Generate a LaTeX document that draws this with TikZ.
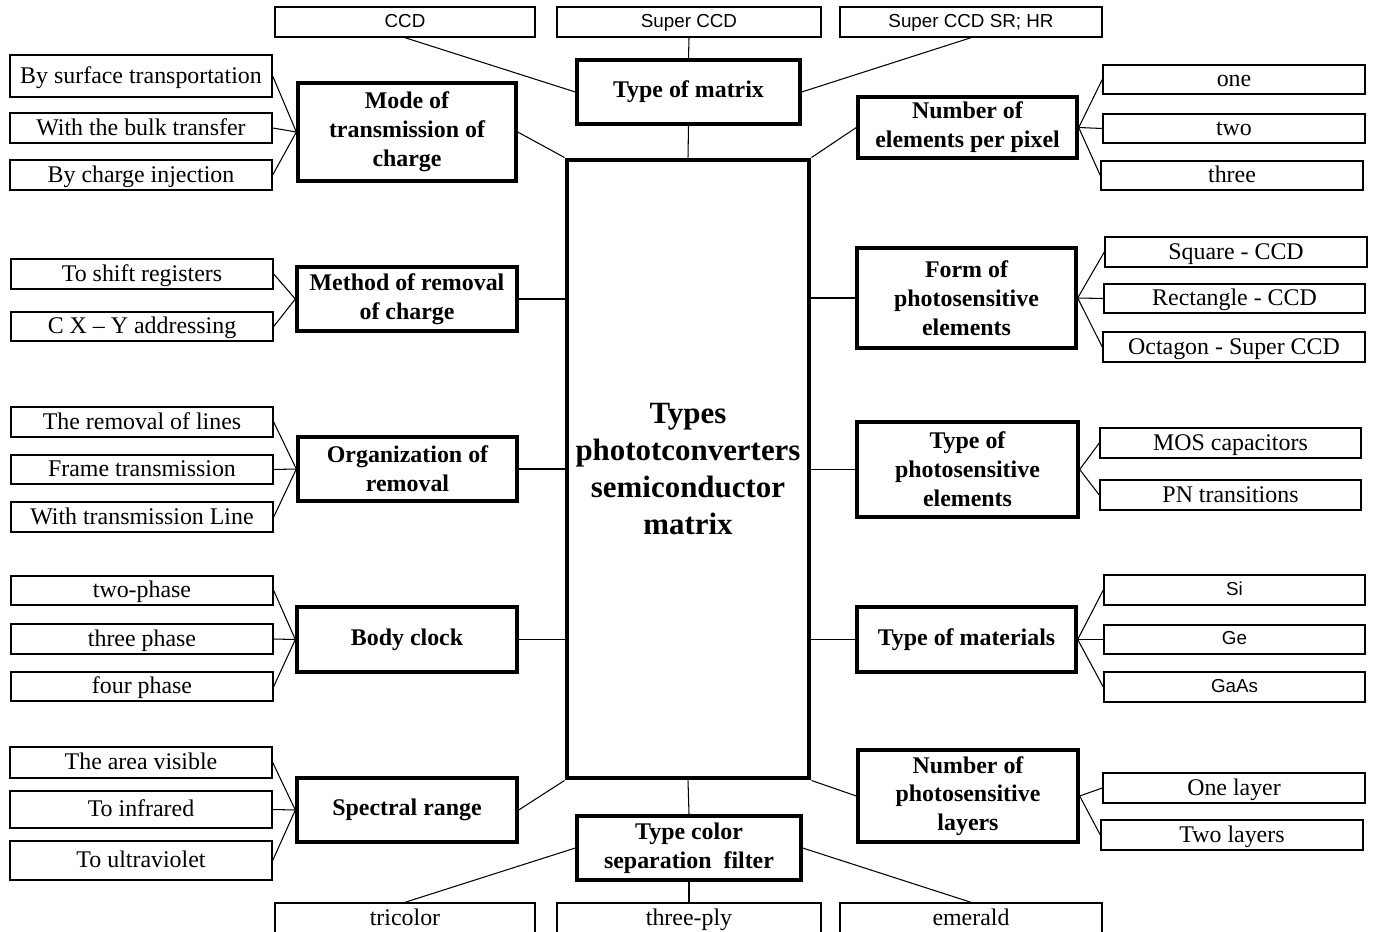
\documentclass[tikz,border=0pt]{standalone}
\usepackage{fontspec}
\setmainfont{Liberation Serif}
\setsansfont{Liberation Sans}
\newcommand{\leaffont}{\fontsize{13.6}{16}\selectfont}
\newcommand{\sleaffont}{\sffamily\fontsize{10.7}{13}\selectfont}
\newcommand{\catfont}{\bfseries\fontsize{13.6}{16.4}\selectfont}
\newcommand{\corefont}{\bfseries\fontsize{17.6}{21}\selectfont}
\newcommand{\bx}[7]{\node[#6, minimum width={(#4-#2)*0.02cm}, minimum height={(#5-#3)*0.02cm}] (#1) at ({(#2+#4)/2},{(#3+#5)/2}) {#7};}
\tikzset{
  leaf/.style={draw, line width=0.8pt, inner sep=0pt, font=\leaffont, text height=9pt, text depth=0.5pt},
  sleaf/.style={leaf, font=\sleaffont, text height=7.7pt, text depth=1.5pt},
  cat/.style={draw, line width=1.9pt, inner sep=0pt, align=center, font=\catfont},
  core/.style={draw, line width=2.8pt, inner sep=0pt, align=center, font=\corefont},
  conn/.style={line width=0.6pt}
}
\begin{document}
\begin{tikzpicture}[x=0.02cm, y=-0.02cm]
\useasboundingbox (0,0) rectangle (1375,932);
% center
\bx{core}{567}{160}{809}{778}{core}{Types\\phototconverters\\semiconductor\\matrix}
% top
\bx{ccd}{275}{7}{535}{37}{sleaf}{CCD}
\bx{sccd}{557}{7}{821}{37}{sleaf}{Super CCD}
\bx{sccdsr}{840}{7}{1102}{37}{sleaf}{Super CCD SR; HR}
\bx{tmat}{577}{60}{800}{124}{cat}{Type of matrix}
% left
\bx{mode}{298}{83}{516}{181}{cat}{Mode of\\transmission of\\charge}
\bx{lbst}{10}{55}{272}{97}{leaf}{By surface transportation}
\bx{lwbt}{10}{113}{272}{143}{leaf}{With the bulk transfer}
\bx{lbci}{10}{160}{272}{190}{leaf}{By charge injection}
\bx{meth}{297}{267}{517}{331}{cat}{Method of removal\\of charge}
\bx{ltsr}{11}{259}{273}{289}{leaf}{To shift registers}
\bx{lcxy}{11}{312}{273}{341}{leaf}{C X – Y addressing}
\bx{org}{298}{437}{517}{501}{cat}{Organization of\\removal}
\bx{ltrl}{11}{407}{273}{437}{leaf}{The removal of lines}
\bx{lft}{11}{455}{273}{484}{leaf}{Frame transmission}
\bx{lwtl}{11}{502}{273}{532}{leaf}{With transmission Line}
\bx{body}{297}{607}{517}{672}{cat}{Body clock}
\bx{ltwo}{11}{576}{273}{605}{leaf}{two-phase}
\bx{lthree}{11}{624}{273}{654}{leaf}{three phase}
\bx{lfour}{11}{672}{273}{701}{leaf}{four phase}
\bx{spec}{297}{778}{517}{842}{cat}{Spectral range}
\bx{lav}{10}{747}{272}{778}{leaf}{The area visible}
\bx{lir}{10}{791}{272}{828}{leaf}{To infrared}
\bx{luv}{10}{841}{272}{880}{leaf}{To ultraviolet}
% bottom
\bx{tcol}{577}{816}{801}{880}{cat}{Type color\\separation\ \ filter}
\bx{btri}{275}{903}{535}{934}{leaf}{tricolor}
\bx{bply}{557}{903}{821}{934}{leaf}{three-ply}
\bx{bem}{840}{903}{1102}{934}{leaf}{emerald}
% right
\bx{nel}{858}{97}{1077}{158}{cat}{Number of\\elements per pixel}
\bx{rone}{1103}{65}{1365}{94}{leaf}{one}
\bx{rtwo}{1103}{114}{1365}{143}{leaf}{two}
\bx{rthree}{1101}{161}{1363}{190}{leaf}{three}
\bx{form}{857}{248}{1076}{348}{cat}{Form of\\photosensitive\\elements}
\bx{rsq}{1105}{237}{1367}{267}{leaf}{Square - CCD}
\bx{rrect}{1104}{284}{1365}{313}{leaf}{Rectangle - CCD}
\bx{roct}{1103}{332}{1365}{362}{leaf}{Octagon - Super CCD}
\bx{tpe}{857}{422}{1078}{517}{cat}{Type of\\photosensitive\\elements}
\bx{rmos}{1100}{428}{1361}{458}{leaf}{MOS capacitors}
\bx{rpn}{1100}{480}{1361}{510}{leaf}{PN transitions}
\bx{tmt}{857}{607}{1076}{672}{cat}{Type of materials}
\bx{rsi}{1104}{575}{1365}{605}{sleaf}{Si}
\bx{rge}{1104}{625}{1365}{654}{sleaf}{Ge}
\bx{rgaas}{1104}{672}{1365}{702}{sleaf}{GaAs}
\bx{nlay}{858}{750}{1078}{842}{cat}{Number of\\photosensitive\\layers}
\bx{rol}{1103}{773}{1365}{803}{leaf}{One layer}
\bx{rtl}{1101}{820}{1363}{850}{leaf}{Two layers}
% connectors
\draw[conn] (core.north) -- (tmat.south);
\draw[conn] (tmat.north) -- (sccd.south);
\draw[conn] (ccd.south) -- (tmat.west);
\draw[conn] (sccdsr.south) -- (tmat.east);
\draw[conn] (core.north west) -- (mode.east);
\draw[conn] (core.north east) -- (nel.west);
\draw[conn] (core.south west) -- (spec.east);
\draw[conn] (core.south east) -- (nlay.west);
\draw[conn] (core.south) -- (tcol.north);
\foreach \c in {meth,org,body} \draw[conn] (\c.east) -- (\c.east -| core.west);
\foreach \c in {form,tpe,tmt} \draw[conn] (\c.west) -- (\c.west -| core.east);
\foreach \l in {lbst,lwbt,lbci} \draw[conn] (mode.west) -- (\l.east);
\foreach \l in {ltsr,lcxy} \draw[conn] (meth.west) -- (\l.east);
\foreach \l in {ltrl,lft,lwtl} \draw[conn] (org.west) -- (\l.east);
\foreach \l in {ltwo,lthree,lfour} \draw[conn] (body.west) -- (\l.east);
\foreach \l in {lav,lir,luv} \draw[conn] (spec.west) -- (\l.east);
\foreach \r in {rone,rtwo,rthree} \draw[conn] (nel.east) -- (\r.west);
\foreach \r in {rsq,rrect,roct} \draw[conn] (form.east) -- (\r.west);
\foreach \r in {rmos,rpn} \draw[conn] (tpe.east) -- (\r.west);
\foreach \r in {rsi,rge,rgaas} \draw[conn] (tmt.east) -- (\r.west);
\foreach \r in {rol,rtl} \draw[conn] (nlay.east) -- (\r.west);
\draw[conn] (tcol.west) -- (btri.north);
\draw[conn] (tcol.south) -- (bply.north);
\draw[conn] (tcol.east) -- (bem.north);
\end{tikzpicture}
\end{document}
